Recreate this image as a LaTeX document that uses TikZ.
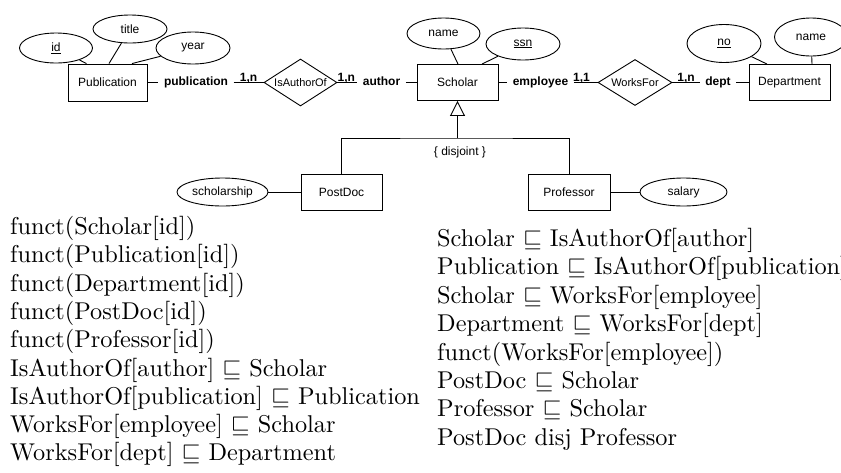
\RequirePackage{fix-cm}
\documentclass[tikz,border=0pt]{standalone}
\usepackage{fontspec}
\newfontfamily\erfont{Liberation Sans}
\newfontfamily\axfont[Extension=.otf]{lmroman10-regular}
\usetikzlibrary{shapes.geometric,arrows.meta}

% sans font at a given size for the ER part
\newcommand\erfs[1]{\erfont\fontsize{#1}{#1}\selectfont}

\tikzset{
  conn/.style={line width=0.9pt},
  entity/.style={draw, rectangle, line width=0.9pt, inner sep=0pt,
    minimum width=81pt, minimum height=36pt, font=\erfs{12}},
  attr/.style={draw, ellipse, line width=0.9pt, inner sep=0pt, font=\erfs{12}},
  rel/.style={draw, diamond, aspect=1.55, line width=0.9pt, inner sep=0pt,
    minimum width=73pt, minimum height=47pt, font=\erfs{11}},
  role/.style={inner xsep=5.5pt, inner ysep=0pt, text height=9pt, text depth=2.4pt,
    font=\erfs{12}\bfseries},
  card/.style={inner sep=1pt, text depth=0pt, font=\erfs{12}\bfseries},
  axiom/.style={anchor=base west, inner sep=0pt, font=\axfont\fontsize{24.3}{28.4}\selectfont},
}

\begin{document}
\begin{tikzpicture}[x=1pt, y=-1pt]
\path[use as bounding box, fill=white] (0,0) rectangle (841,472);

% entities
\node[entity, minimum width=79pt, minimum height=37pt] (pub) at (107.5,82.5) {Publication};
\node[entity] (sch) at (457.5,82.5) {Scholar};
\node[entity] (dep) at (789.5,82.5) {Department};
\node[entity] (pd) at (341.5,192) {PostDoc};
\node[entity, minimum width=82pt] (prof) at (569,192) {Professor};

% attributes
\node[attr, minimum width=73pt, minimum height=30pt] (id) at (56,48) {\underline{id}};
\node[attr, minimum width=74pt, minimum height=28pt] (title) at (130,29) {title};
\node[attr, minimum width=74pt, minimum height=32pt] (year) at (193,48) {year};
\node[attr, minimum width=73pt, minimum height=31pt] (sname) at (443.5,33.5) {name};
\node[attr, minimum width=74pt, minimum height=32pt] (ssn) at (523,44) {\underline{ssn}};
\node[attr, minimum width=74pt, minimum height=38pt] (no) at (724,43.5) {\underline{no}};
\node[attr, minimum width=73pt, minimum height=38pt] (dname) at (811,37) {name};
\node[attr, minimum width=91pt, minimum height=28pt] (schol) at (222.5,192) {scholarship};
\node[attr, minimum width=87pt, minimum height=28pt] (sal) at (683.5,192) {salary};

% relationships
\node[rel] (iao) at (300.5,82.5) {IsAuthorOf};
\node[rel, minimum width=74pt, minimum height=46pt] (wf) at (635,82.5) {WorksFor};

% role names
\node[role] (rpub) at (196,82.5) {publication};
\node[role] (rauth) at (381.5,82.5) {author};
\node[role] (remp) at (540.5,82.5) {employee};
\node[role] (rdept) at (718,82.5) {dept};

% relationship connectors with cardinalities
\draw[conn] (pub) -- (rpub);
\draw[conn] (rpub) -- node[card, above, pos=0.5] {1,n} (iao);
\draw[conn] (iao) -- node[card, above, pos=0.45] {1,n} (rauth);
\draw[conn] (rauth) -- (sch);
\draw[conn] (sch) -- (remp);
\draw[conn] (remp) -- node[card, above, pos=0.32] {1,1} (wf);
\draw[conn] (wf) -- node[card, above, pos=0.5] {1,n} (rdept);
\draw[conn] (rdept) -- (dep);

% attribute links
\draw[conn] (id) -- ([xshift=-21pt]pub.north);
\draw[conn] (title) -- ([xshift=1.5pt]pub.north);
\draw[conn] (year) -- ([xshift=24.5pt]pub.north);
\draw[conn] (sname) -- ([xshift=0.5pt]sch.north);
\draw[conn] (ssn) -- ([xshift=24.5pt]sch.north);
\draw[conn] (no) -- ([xshift=-22.5pt]dep.north);
\draw[conn] (dname) -- ([xshift=22.5pt]dep.north);
\draw[conn] (schol) -- (pd);
\draw[conn] (prof) -- (sal);

% generalisation
\coordinate (isj) at (457.5,138);
\draw[conn, -{Triangle[open, length=15pt, width=15pt]}] (isj) -- (sch.south);
\draw[conn] (pd.north) |- (isj) -| (prof.north);
\node[font=\erfs{12}] (disj) at (460,152) {\{ disjoint \}};

% constraints
\foreach \t [count=\i] in {
  {funct(Scholar[id])},
  {funct(Publication[id])},
  {funct(Department[id])},
  {funct(PostDoc[id])},
  {funct(Professor[id])},
  {IsAuthorOf[author] $\sqsubseteq$ Scholar},
  {IsAuthorOf[publication] $\sqsubseteq$ Publication},
  {WorksFor[employee] $\sqsubseteq$ Scholar},
  {WorksFor[dept] $\sqsubseteq$ Department}}
  \node[axiom] (ax\i) at (10,{234.5+28.3*(\i-1)}) {\t};

\foreach \t [count=\i] in {
  {Scholar $\sqsubseteq$ IsAuthorOf[author]},
  {Publication $\sqsubseteq$ IsAuthorOf[publication]},
  {Scholar $\sqsubseteq$ WorksFor[employee]},
  {Department $\sqsubseteq$ WorksFor[dept]},
  {funct(WorksFor[employee])},
  {PostDoc $\sqsubseteq$ Scholar},
  {Professor $\sqsubseteq$ Scholar},
  {PostDoc disj Professor}}
  \node[axiom] (bx\i) at (437,{246.5+28.4*(\i-1)}) {\t};
\end{tikzpicture}
\end{document}
